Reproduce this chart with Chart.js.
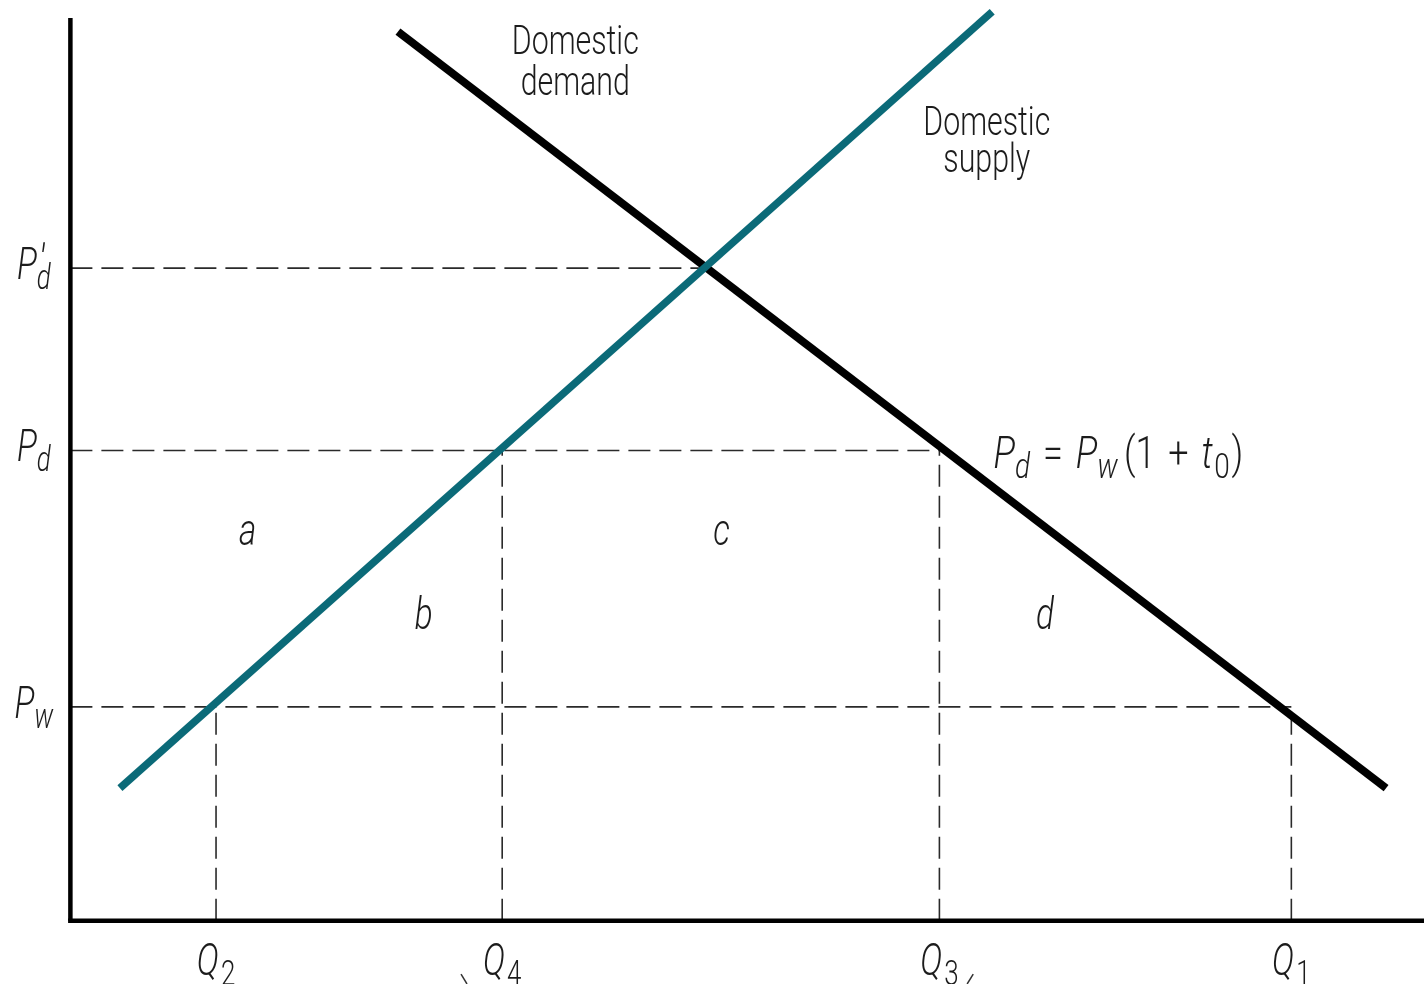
<!DOCTYPE html>
<html>
<head>
<meta charset="utf-8">
<script src="https://cdn.jsdelivr.net/npm/chart.js@4/dist/chart.umd.min.js"></script>
<style>
  html, body { margin: 0; padding: 0; background: #fff; }
  #wrap { width: 1424px; height: 984px; }
</style>
</head>
<body>
<div id="wrap"><canvas id="tariffChart" width="1424" height="984"></canvas></div>
<script>
// quantity (x) and price (y) in arbitrary units
const supplyQ = [3.66, 68.1];
const supplyP = [14.7, 100.7];
const demandQ = [24.2, 97.2];
const demandP = [98.5, 14.7];

const priceNames = ['Pw', 'Pd', "P'd"];
const priceLevels = [23.7, 52.1, 72.3];
const priceLineEnds = [90.2, 64.2, 47.0];

const quantityNames = ['Q2', 'Q4', 'Q3', 'Q1'];
const quantityLevels = [10.76, 31.9, 64.2, 90.2];
const quantityLineTops = [23.7, 52.1, 52.1, 23.7];

const areaNames = ['a', 'b', 'c', 'd'];
const areaQ = [13.1, 26.1, 48.1, 72.0];
const areaP = [41.6, 32.3, 41.6, 32.3];

const axisMaxQ = 100;
const axisMaxP = 100;

const teal = '#0b6a78';
const ink = '#1c1c1c';
const fontFam = 'Roboto, "DejaVu Sans Condensed", sans-serif';

const pts = (xs, ys) => xs.map((x, i) => ({ x, y: ys[i] }));

const dashed = (data) => ({
  data, borderColor: '#2a2a2a', borderWidth: 1.6, borderDash: [22, 9],
  pointRadius: 0, order: 5
});

const datasets = [
  { label: 'Domestic supply', data: pts(supplyQ, supplyP), borderColor: teal, borderWidth: 7.5, pointRadius: 0, borderCapStyle: 'butt', order: 1 },
  { label: 'Domestic demand', data: pts(demandQ, demandP), borderColor: '#000', borderWidth: 8, pointRadius: 0, borderCapStyle: 'butt', order: 2 },
  { label: 'y axis', data: [{ x: 0, y: 0 }, { x: 0, y: axisMaxP }], borderColor: '#000', borderWidth: 4.5, pointRadius: 0, order: 3 },
  { label: 'x axis', data: [{ x: -0.17, y: 0 }, { x: axisMaxQ, y: 0 }], borderColor: '#000', borderWidth: 4.5, pointRadius: 0, order: 3 },
  ...priceLevels.map((p, i) => dashed([{ x: 0, y: p }, { x: priceLineEnds[i], y: p }])),
  ...quantityLevels.map((q, i) => dashed([{ x: q, y: 0 }, { x: q, y: quantityLineTops[i] }])),
  // brace tips peeking in at the bottom edge
  { data: [{ x: 28.86, y: -5.9 }, { x: 29.3, y: -7 }], borderColor: '#333', borderWidth: 1.5, pointRadius: 0, order: 6 },
  { data: [{ x: 66.7, y: -5.9 }, { x: 66.25, y: -7 }], borderColor: '#333', borderWidth: 1.5, pointRadius: 0, order: 6 }
];

// text with italics and subscripts, squeezed horizontally like a condensed face
const drawRich = (ctx, x, y, parts, size, align = 'center', sx = 0.74) => {
  const fontFor = (p) => `${p.it ? 'italic ' : ''}300 ${(p.sub || p.sup) && !p.big ? Math.round(size * 0.78) : size}px ${fontFam}`;
  let total = 0;
  parts.forEach((p) => {
    ctx.font = fontFor(p);
    p.w = ctx.measureText(p.t).width;
    if (!p.hold) total += p.w + (p.gap || 0);
  });
  let cx = align === 'center' ? -total / 2 : 0;
  ctx.save();
  ctx.translate(x, y);
  ctx.scale(sx, 1);
  ctx.textAlign = 'left';
  ctx.textBaseline = 'alphabetic';
  ctx.fillStyle = ink;
  parts.forEach((p) => {
    ctx.font = fontFor(p);
    const dy = p.sub ? size * 0.22 : p.sup ? -size * (p.big ? 0.08 : 0.36) : 0;
    ctx.fillText(p.t, cx + (p.dx || 0), dy);
    if (!p.hold) cx += p.w + (p.gap || 0);
  });
  ctx.restore();
};

const labelParts = {
  Pw: [{ t: 'P', it: true }, { t: 'w', it: true, sub: true }],
  Pd: [{ t: 'P', it: true }, { t: 'd', it: true, sub: true }],
  "P'd": [{ t: 'P', it: true }, { t: '′', it: true, sup: true, big: true, hold: true, dx: 3 }, { t: 'd', it: true, sub: true }],
  Q2: [{ t: 'Q', it: true, gap: 3 }, { t: '2', sub: true }],
  Q4: [{ t: 'Q', it: true, gap: 3 }, { t: '4', sub: true }],
  Q3: [{ t: 'Q', it: true, gap: 3 }, { t: '3', sub: true }],
  Q1: [{ t: 'Q', it: true, gap: 3 }, { t: '1', sub: true }]
};

const textPlugin = {
  id: 'textPlugin',
  beforeDraw(chart) {
    const { ctx } = chart;
    ctx.save();
    ctx.fillStyle = '#fff';
    ctx.fillRect(0, 0, chart.width, chart.height);
    ctx.restore();
  },
  afterDraw(chart) {
    const { ctx, scales: { x, y } } = chart;
    const size = 41;
    const sym = 45;
    priceNames.forEach((n, i) => {
      drawRich(ctx, x.getPixelForValue(-2.7), y.getPixelForValue(priceLevels[i]) + 11, labelParts[n], sym);
    });
    quantityNames.forEach((n, i) => {
      drawRich(ctx, x.getPixelForValue(quantityLevels[i]), y.getPixelForValue(-6.0), labelParts[n], sym);
    });
    areaNames.forEach((n, i) => {
      drawRich(ctx, x.getPixelForValue(areaQ[i]), y.getPixelForValue(areaP[i]), [{ t: n, it: true }], sym);
    });
    drawRich(ctx, x.getPixelForValue(37.3), y.getPixelForValue(96.0), [{ t: 'Domestic' }], size);
    drawRich(ctx, x.getPixelForValue(37.3), y.getPixelForValue(91.5), [{ t: 'demand' }], size);
    drawRich(ctx, x.getPixelForValue(67.7), y.getPixelForValue(87.1), [{ t: 'Domestic' }], size);
    drawRich(ctx, x.getPixelForValue(67.7), y.getPixelForValue(82.9), [{ t: 'supply' }], size);
    drawRich(ctx, x.getPixelForValue(68.2), y.getPixelForValue(50.2), [
      { t: 'P', it: true }, { t: 'd', it: true, sub: true, gap: 16 },
      { t: '=', gap: 16 },
      { t: 'P', it: true }, { t: 'w', it: true, sub: true, gap: 8 },
      { t: '(1', gap: 16 }, { t: '+', gap: 16 }, { t: 't', it: true, gap: 2 }, { t: '0', sub: true, gap: 2 }, { t: ')' }
    ], sym, 'left', 0.8);
  }
};

new Chart(document.getElementById('tariffChart'), {
  type: 'line',
  data: { datasets },
  options: {
    responsive: false,
    animation: false,
    devicePixelRatio: 1,
    layout: { padding: 0 },
    plugins: { legend: { display: false }, tooltip: { enabled: false } },
    elements: { line: { tension: 0 } },
    scales: {
      x: { type: 'linear', min: -5.2, max: 100, display: false },
      y: { type: 'linear', min: -7, max: 102, display: false }
    }
  },
  plugins: [textPlugin]
});
</script>
</body>
</html>
